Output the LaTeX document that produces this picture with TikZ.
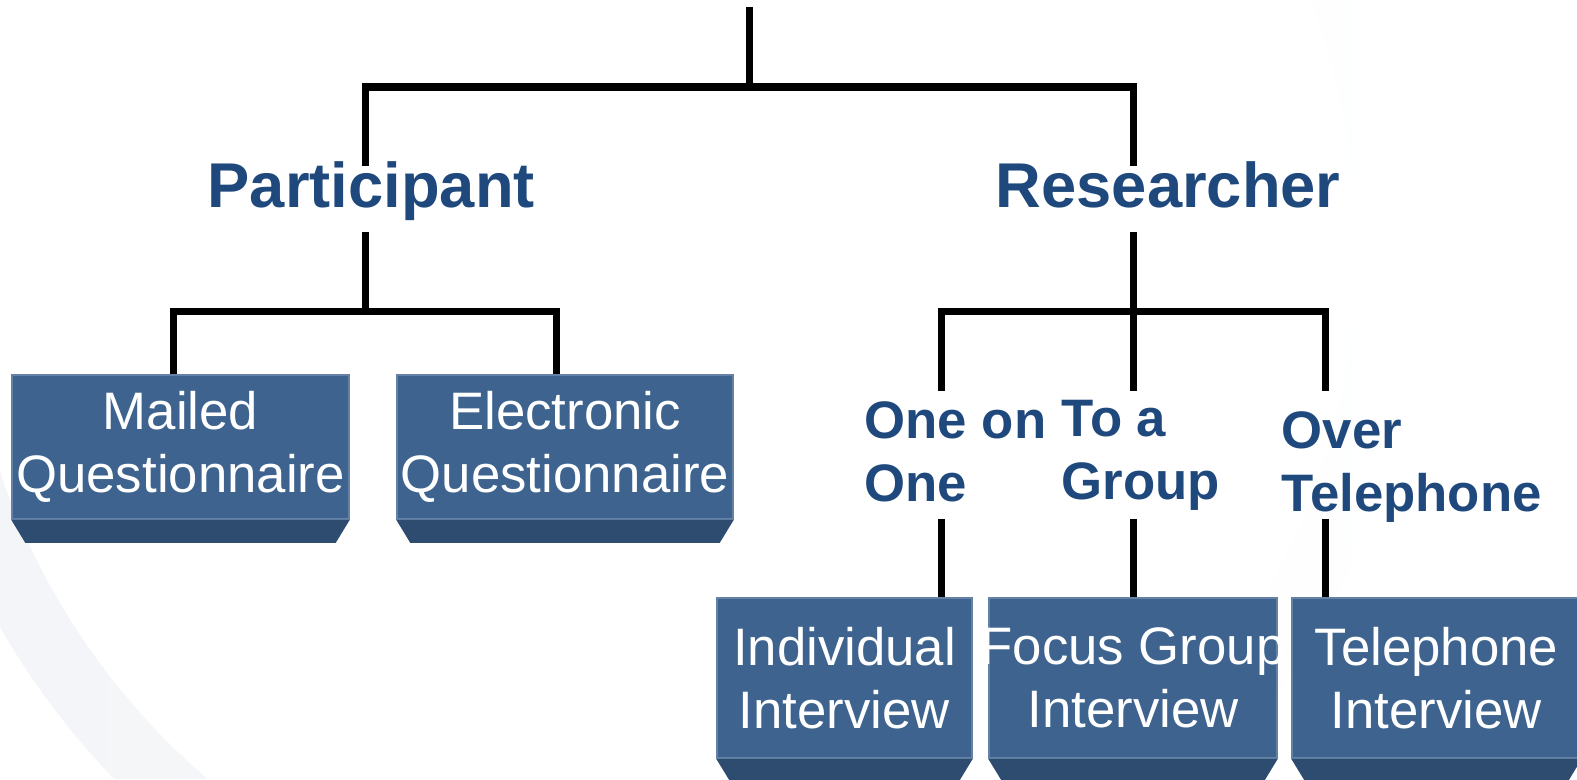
\documentclass[tikz,border=0pt]{standalone}
\usepackage{fontspec}
\setmainfont{Liberation Sans}
\usepackage{tikz}
\usetikzlibrary{positioning}

\definecolor{faceblue}{RGB}{61,99,142}
\definecolor{bevelblue}{RGB}{46,76,111}
\definecolor{headblue}{RGB}{31,73,125}
\definecolor{ringgrey}{RGB}{242,244,247}

\begin{document}
\begin{tikzpicture}[
    x=0.01cm, y=-0.01cm,
    face/.style={rectangle,fill=faceblue,draw=faceblue!80!white,line width=0.4pt,inner sep=0pt},
    upper/.style={face,minimum height=1.44cm},
    lower/.style={face,minimum height=1.60cm},
    bevel/.style={fill=bevelblue},
    boxtext/.style={text=white,align=center,font=\fontsize{15}{18}\selectfont},
    branch/.style={text=headblue,inner sep=0pt,anchor=base west,font=\bfseries\fontsize{18}{21.6}\selectfont},
    way/.style={text=headblue,inner sep=0pt,anchor=north west,align=left,font=\bfseries\fontsize{15}{18}\selectfont},
    link/.style={line width=0.07cm}
]
    \useasboundingbox (0,0) rectangle (1577,779);
    \begin{scope}
        \clip (0,420) rectangle (1577,779) (1200,0) rectangle (1577,420);
        \shade[left color=ringgrey,right color=white,even odd rule]
            (660,250) circle[radius=760] (660,250) circle[radius=696];
    \end{scope}

    \node[branch] (participant) at (207,207) {Participant};
    \node[branch] (researcher) at (995,207) {Researcher};

    \node[upper,minimum width=3.37cm] (mailed) at (180.5,447) {};
    \node[upper,minimum width=3.36cm] (electronic) at (565,447) {};

    \node[way] (oneone) at (864,401) {One on\\One};
    \node[way] (togroup) at (1061,399) {To a\\Group};
    \node[way] (overtel) at (1281,411) {Over\\Telephone};

    \node[lower,minimum width=2.55cm] (individual) at (844.5,678) {};
    \node[lower,minimum width=2.88cm] (focus) at (1133,678) {};
    \node[lower,minimum width=2.89cm] (telephone) at (1436.5,678) {};

    \foreach \b in {mailed,electronic,individual,focus,telephone}
        \fill[bevel] (\b.south west) -- ++(14,23) -- ([shift={(-14,23)}]\b.south east) -- (\b.south east) -- cycle;

    \node[boxtext] (mailedtext) at (mailed) {Mailed\\Questionnaire};
    \node[boxtext] (electronictext) at (electronic) {Electronic\\Questionnaire};
    \node[boxtext] (individualtext) at (individual) {Individual\\Interview};
    \node[boxtext] (focustext) at (focus) {Focus Group\\Interview};
    \node[boxtext] (telephonetext) at (telephone) {Telephone\\Interview};

    \coordinate (root) at (749,7);
    \coordinate (hub) at (749,87);
    \coordinate (ptop) at (365,166);
    \coordinate (rtop) at (1133,166);
    \coordinate (pbot) at (365,232);
    \coordinate (pjoin) at (365,311);
    \coordinate (rbot) at (1133,232);
    \coordinate (rjoin) at (1133,311);
    \coordinate (wayl) at (941,391);
    \coordinate (waym) at (1133,391);
    \coordinate (wayr) at (1325,391);
    \coordinate (lowl) at (941,519);
    \coordinate (lowm) at (1133,519);
    \coordinate (lowr) at (1325,519);

    \draw[link] (root) -- (hub);
    \draw[link] (ptop) |- (hub) -| (rtop);
    \draw[link] (pbot) -- (pjoin);
    \draw[link] ([xshift=-0.07cm]mailed.north) |- (pjoin) -| ([xshift=-0.085cm]electronic.north);
    \draw[link] (rbot) -- (rjoin);
    \draw[link] (wayl) |- (rjoin) -| (wayr);
    \draw[link] (rjoin) -- (waym);
    \draw[link] (lowl) -- (lowl |- individual.north);
    \draw[link] (lowm) -- (focus.north);
    \draw[link] (lowr) -- (lowr |- telephone.north);
\end{tikzpicture}
\end{document}
